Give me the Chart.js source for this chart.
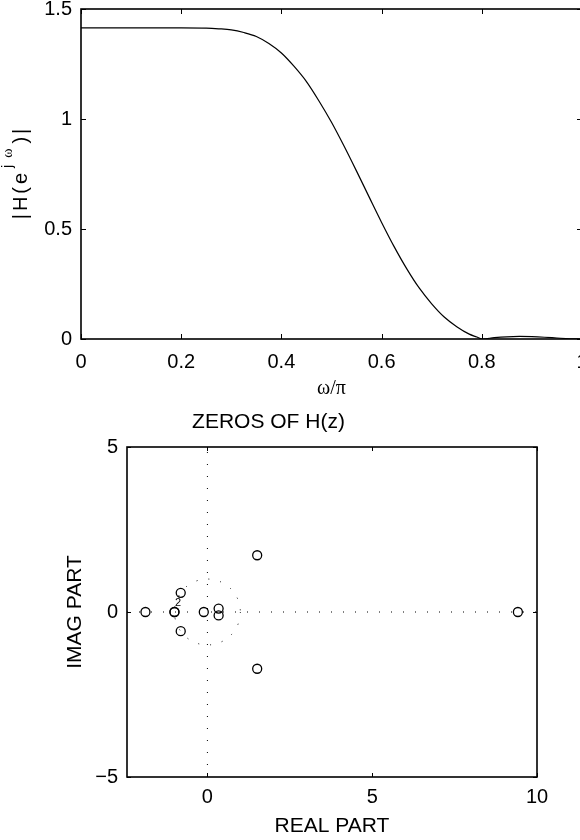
<!DOCTYPE html>
<html>
<head>
<meta charset="utf-8">
<script src="https://cdn.jsdelivr.net/npm/chart.js@4.4.1/dist/chart.umd.min.js"></script>
<style>
  html, body { margin: 0; padding: 0; background: #fff; overflow: hidden; }
  body { width: 580px; height: 840px; position: relative; }
  #magWrap { position: absolute; left: 0; top: 0; width: 600px; height: 400px; }
  #zeroWrap { position: absolute; left: 0; top: 400px; width: 580px; height: 440px; }
</style>
</head>
<body>
<div id="magWrap"><canvas id="magChart" width="600" height="400"></canvas></div>
<div id="zeroWrap"><canvas id="zeroChart" width="580" height="440"></canvas></div>
<script>
// magnitude response, omega in units of pi
const omega = [0, 0.05, 0.1, 0.15, 0.2, 0.25, 0.275, 0.3, 0.325, 0.35, 0.375, 0.4, 0.425, 0.45,
  0.475, 0.5, 0.525, 0.55, 0.575, 0.6, 0.625, 0.65, 0.675, 0.7, 0.725, 0.75, 0.775, 0.79, 0.8,
  0.825, 0.85, 0.875, 0.9, 0.925, 0.95, 0.975, 1.0];
const magH = [1.414, 1.414, 1.414, 1.414, 1.414, 1.413, 1.410, 1.405, 1.393, 1.375, 1.343, 1.300, 1.240, 1.170,
  1.082, 0.985, 0.877, 0.763, 0.646, 0.530, 0.420, 0.320, 0.232, 0.160, 0.100, 0.056, 0.022, 0.009, 0.000,
  0.006, 0.010, 0.0115, 0.0105, 0.008, 0.0045, 0.0012, 0.000];
const magTicksX = [0, 0.2, 0.4, 0.6, 0.8, 1];
const magTicksY = [0, 0.5, 1, 1.5];

// zeros of H(z)
const zeroRe = [-1.88, -1.0, -1.0, -0.81, -0.81, -0.11, 0.34, 0.34, 1.51, 1.51, 9.42];
const zeroIm = [0, 0, 0, 0.58, -0.58, 0, 0.105, -0.105, 1.72, -1.72, 0];
const multRe = [-1.0];
const multIm = [0];
const multText = ['2'];
const zeroTicksX = [0, 5, 10];
const zeroTicksY = [-5, 0, 5];
const zeroXMin = -2.44, zeroXMax = 10;
const zeroYMin = -5, zeroYMax = 5;

Chart.defaults.font.family = '"Liberation Sans", Arial, Helvetica, sans-serif';
Chart.defaults.color = '#000';

const fmt = v => {
  const s = String(Math.round(v * 100) / 100);
  return s.replace('-', '\u2212');
};

const tickList = list => scale => { scale.ticks = list.map(v => ({ value: v })); };

// box around the axes with inward ticks on all four sides
const axesBox = {
  id: 'axesBox',
  afterDatasetsDraw(chart, args, opts) {
    const { ctx, chartArea: a, scales } = chart;
    const len = opts.tickLen;
    ctx.save();
    ctx.strokeStyle = '#000';
    ctx.lineWidth = 1;
    ctx.beginPath();
    scales.x.ticks.forEach(t => {
      const px = Math.round(scales.x.getPixelForValue(t.value)) + 0.5;
      ctx.moveTo(px, a.bottom); ctx.lineTo(px, a.bottom - len);
      ctx.moveTo(px, a.top); ctx.lineTo(px, a.top + len);
    });
    scales.y.ticks.forEach(t => {
      const py = Math.round(scales.y.getPixelForValue(t.value)) + 0.5;
      ctx.moveTo(a.left, py); ctx.lineTo(a.left + len, py);
      ctx.moveTo(a.right, py); ctx.lineTo(a.right - len, py);
    });
    ctx.stroke();
    ctx.lineWidth = opts.lineWidth;
    ctx.strokeRect(a.left, a.top, a.right - a.left, a.bottom - a.top);
    ctx.restore();
  }
};

// |H(e^{jw})| with a raised exponent, rotated along the left side
const magYTitle = {
  id: 'magYTitle',
  afterDraw(chart) {
    const { ctx, chartArea: a } = chart;
    const main = '20px "Liberation Sans"';
    const sup = '14px "Liberation Sans"';
    const supSerif = '14px "Liberation Serif"';
    const glyphs = [
      { t: '|', font: main, dy: 0, gap: 3 },
      { t: 'H', font: main, dy: 0, gap: 3 },
      { t: '(', font: main, dy: 0, gap: 3 },
      { t: 'e', font: main, dy: 0, gap: 5 },
      { t: 'j', font: sup, dy: -15, gap: 7 },
      { t: '\u03c9', font: supSerif, dy: -15, gap: 5 },
      { t: ')', font: main, dy: 0, gap: 3 },
      { t: '|', font: main, dy: 0, gap: 0 }
    ];
    ctx.save();
    let total = 0;
    glyphs.forEach(g => { ctx.font = g.font; g.w = ctx.measureText(g.t).width; total += g.w + g.gap; });
    ctx.translate(27, (a.top + a.bottom) / 2);
    ctx.rotate(-Math.PI / 2);
    ctx.fillStyle = '#000';
    ctx.textBaseline = 'alphabetic';
    let x = -total / 2;
    glyphs.forEach(g => { ctx.font = g.font; ctx.fillText(g.t, x, g.dy); x += g.w + g.gap; });
    ctx.restore();
  }
};

// dotted unit circle and multiplicity labels
const zeroExtras = {
  id: 'zeroExtras',
  beforeDatasetsDraw(chart) {
    const { ctx, chartArea: a, scales: { x, y } } = chart;
    const cx = x.getPixelForValue(0), cy = y.getPixelForValue(0);
    const r = x.getPixelForValue(1) - cx;
    ctx.save();
    ctx.beginPath();
    ctx.rect(a.left, a.top, a.right - a.left, a.bottom - a.top);
    ctx.clip();
    ctx.strokeStyle = '#000';
    ctx.lineWidth = 1;
    ctx.setLineDash([1, 11]);
    ctx.beginPath();
    ctx.arc(cx, cy, r, 0, Math.PI * 2);
    ctx.stroke();
    ctx.restore();
  },
  afterDatasetsDraw(chart) {
    const { ctx, scales: { x, y } } = chart;
    ctx.save();
    ctx.fillStyle = '#000';
    ctx.font = '11px "Liberation Sans"';
    ctx.textAlign = 'center';
    ctx.textBaseline = 'middle';
    multText.forEach((t, i) => {
      ctx.fillText(t, x.getPixelForValue(multRe[i]) + 3.5, y.getPixelForValue(multIm[i]) - 9);
    });
    ctx.restore();
  }
};

new Chart(document.getElementById('magChart'), {
  type: 'line',
  data: {
    datasets: [{
      data: omega.map((w, i) => ({ x: w, y: magH[i] })),
      borderColor: '#000',
      borderWidth: 1.2,
      pointRadius: 0,
      cubicInterpolationMode: 'monotone',
      fill: false
    }]
  },
  options: {
    responsive: false,
    animation: false,
    devicePixelRatio: 1,
    events: [],
    layout: { padding: { top: 9, right: 18, left: 0, bottom: 0 } },
    plugins: {
      legend: { display: false },
      tooltip: { enabled: false },
      axesBox: { tickLen: 5, lineWidth: 1.6 }
    },
    scales: {
      x: {
        type: 'linear', min: 0, max: 1,
        afterBuildTicks: tickList(magTicksX),
        afterFit(s) { s.height = 61; s.paddingLeft = 0; s.paddingRight = 0; },
        grid: { display: false, drawTicks: false },
        border: { display: false },
        ticks: { padding: 11, maxRotation: 0, autoSkip: false, font: { size: 20 }, callback: fmt },
        title: {
          display: true, text: '\u03c9/\u03c0',
          font: { family: '"Liberation Serif", serif', size: 20, lineHeight: 1 },
          padding: { top: 0, bottom: 1 }
        }
      },
      y: {
        type: 'linear', min: 0, max: 1.5,
        afterBuildTicks: tickList(magTicksY),
        afterFit(s) { s.width = 81; s.paddingTop = 0; s.paddingBottom = 0; },
        grid: { display: false, drawTicks: false },
        border: { display: false },
        ticks: { padding: 9, autoSkip: false, font: { size: 20 }, callback: fmt }
      }
    }
  },
  plugins: [axesBox, magYTitle]
});

new Chart(document.getElementById('zeroChart'), {
  type: 'scatter',
  data: {
    datasets: [
      {
        data: zeroRe.map((re, i) => ({ x: re, y: zeroIm[i] })),
        pointStyle: 'circle',
        pointRadius: 4.5,
        borderColor: '#000',
        borderWidth: 1.3,
        backgroundColor: 'rgba(0,0,0,0)',
        showLine: false
      },
      {
        data: [{ x: zeroXMin, y: 0 }, { x: zeroXMax, y: 0 }],
        showLine: true, borderColor: '#000', borderWidth: 1, borderDash: [1, 11], pointRadius: 0
      },
      {
        data: [{ x: 0, y: zeroYMin }, { x: 0, y: zeroYMax }],
        showLine: true, borderColor: '#000', borderWidth: 1, borderDash: [1, 11], pointRadius: 0
      }
    ]
  },
  options: {
    responsive: false,
    animation: false,
    devicePixelRatio: 1,
    events: [],
    layout: { padding: { top: 0, right: 43, left: 0, bottom: 0 } },
    plugins: {
      legend: { display: false },
      tooltip: { enabled: false },
      title: {
        display: true, text: 'ZEROS OF H(z)',
        font: { size: 21, lineHeight: 1, weight: 'normal' },
        color: '#000',
        padding: { top: 12, bottom: 14 }
      },
      axesBox: { tickLen: 4, lineWidth: 1.6 }
    },
    scales: {
      x: {
        type: 'linear', min: zeroXMin, max: zeroXMax,
        afterBuildTicks: tickList(zeroTicksX),
        afterFit(s) { s.height = 63; s.paddingLeft = 0; s.paddingRight = 0; },
        grid: { display: false, drawTicks: false },
        border: { display: false },
        ticks: { padding: 8, maxRotation: 0, autoSkip: false, font: { size: 20 }, callback: fmt },
        title: {
          display: true, text: 'REAL PART',
          font: { size: 21, lineHeight: 1 },
          padding: { top: 0, bottom: 3.5 }
        }
      },
      y: {
        type: 'linear', min: zeroYMin, max: zeroYMax,
        afterBuildTicks: tickList(zeroTicksY),
        afterFit(s) { s.width = 127; s.paddingTop = 0; s.paddingBottom = 0; },
        grid: { display: false, drawTicks: false },
        border: { display: false },
        ticks: { padding: 9, autoSkip: false, font: { size: 20 }, callback: fmt },
        title: {
          display: true, text: 'IMAG PART',
          font: { size: 21, lineHeight: 1 },
          padding: { top: 64.5, bottom: 0 }
        }
      }
    }
  },
  plugins: [axesBox, zeroExtras]
});
</script>
</body>
</html>
